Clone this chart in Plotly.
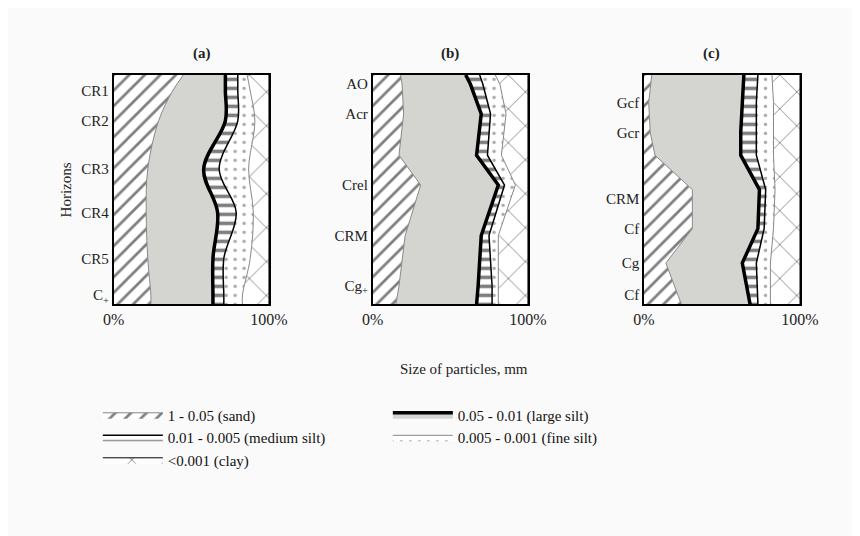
import plotly.graph_objects as go

# depths (0 = top of profile, 100 = bottom)
a_depth = [0, 7, 20, 41, 60, 80, 96, 100]
a_sand = [45, 38, 29, 22, 21, 22, 24, 24]
a_lsilt = [72, 72, 72, 58, 67, 64, 64, 64]
a_msilt = [80, 80, 80, 68, 79, 71, 71, 71]
a_fsilt = [86, 88, 91, 87, 90, 88, 83, 83]
a_ticks = [7, 20, 41, 60, 80, 96]
a_labels = ["CR1", "CR2", "CR3", "CR4", "CR5", "C<sub>+</sub>"]

b_depth = [0, 4, 17, 35, 48, 70, 92, 100]
b_sand = [18, 19, 20, 17, 31, 21, 17, 15]
b_lsilt = [60, 63, 70, 67, 81, 70, 68, 67]
b_msilt = [69, 71, 76, 74, 85, 75, 77, 77]
b_fsilt = [79, 82, 86, 83, 92, 81, 81, 81]
b_ticks = [4, 17, 48, 70, 92]
b_labels = ["AO", "Acr", "Crel", "CRM", "Cg<sub>+</sub>"]

c_depth = [0, 12, 25, 35, 50, 67, 82, 100]
c_sand = [5, 3, 4, 7, 31, 31, 14, 24]
c_lsilt = [64, 63, 62, 62, 74, 73, 63, 68]
c_msilt = [73, 72, 72, 72, 78, 77, 72, 73]
c_fsilt = [82, 83, 83, 83, 84, 83, 81, 81]
c_ticks = [12, 25, 54, 67, 82, 96]
c_labels = ["Gcf", "Gcr", "CRM", "Cf", "Cg", "Cf"]

names = ["1 - 0.05 (sand)", "0.05 - 0.01 (large silt)", "0.01 - 0.005 (medium silt)",
         "0.005 - 0.001 (fine silt)", "<0.001 (clay)"]

panels = [(a_depth, a_sand, a_lsilt, a_msilt, a_fsilt, a_ticks, a_labels, "(a)", "spline"),
          (b_depth, b_sand, b_lsilt, b_msilt, b_fsilt, b_ticks, b_labels, "(b)", "linear"),
          (c_depth, c_sand, c_lsilt, c_msilt, c_fsilt, c_ticks, c_labels, "(c)", "linear")]

styles = [
    dict(line=dict(color="#888", width=1), fillpattern=dict(shape="/", fgcolor="black", bgcolor="white", size=11, solidity=0.25)),
    dict(line=dict(color="black", width=3.5), fillcolor="#d4d4d0"),
    dict(line=dict(color="black", width=1.5), fillpattern=dict(shape="-", fgcolor="black", bgcolor="white", size=9, solidity=0.4)),
    dict(line=dict(color="#888", width=1), fillpattern=dict(shape=".", fgcolor="#555", bgcolor="white", size=9, solidity=0.12)),
    dict(line=dict(color="black", width=1), fillpattern=dict(shape="x", fgcolor="black", bgcolor="white", size=24, solidity=0.07)),
]

fig = go.Figure()
domains = [(0.114, 0.301), (0.426, 0.613), (0.753, 0.941)]
font = "Liberation Serif"
for i, (d, s1, s2, s3, s4, tv, tl, title, shp) in enumerate(panels):
    xa = "x" if i == 0 else f"x{i+1}"
    ya = "y" if i == 0 else f"y{i+1}"
    series = [s1, s2, s3, s4, [100] * len(d)]
    for k, xs in enumerate(series):
        fig.add_trace(go.Scatter(
            x=xs, y=d, mode="lines", name=names[k], xaxis=xa, yaxis=ya,
            fill="tozerox" if k == 0 else "tonextx", line_shape=shp,
            showlegend=(i == 0), legendgroup=names[k], **styles[k]))
    axk = "" if i == 0 else str(i + 1)
    fig.layout["xaxis" + axk] = dict(domain=domains[i], range=[0, 100], tickvals=[0, 100],
                                      ticktext=["0%", "100%"], showgrid=False, zeroline=False,
                                      showline=True, linecolor="black", linewidth=1.5, mirror=True,
                                      ticks="", anchor=ya, tickfont=dict(size=16, family=font, color="#222"))
    fig.layout["yaxis" + axk] = dict(domain=[0.446, 0.875], range=[100, 0], tickvals=tv, ticktext=tl,
                                      showgrid=False, zeroline=False, showline=True, linecolor="black",
                                      linewidth=1.5, mirror=True, ticks="", anchor=xa,
                                      tickfont=dict(size=15, family=font, color="#222"))
    fig.add_annotation(x=(domains[i][0] + domains[i][1]) / 2, y=0.935, xref="paper", yref="paper",
                       text="<b>" + title + "</b>", showarrow=False, font=dict(size=15, family=font, color="#222"))

fig.add_annotation(x=0.044, y=0.66, xref="paper", yref="paper", text="Horizons", textangle=-90,
                   showarrow=False, font=dict(size=15, family=font, color="#222"))
fig.add_annotation(x=0.536, y=0.306, xref="paper", yref="paper", text="Size of particles, mm",
                   showarrow=False, font=dict(size=15, family=font, color="#222"))

fig.update_layout(
    width=860, height=536, margin=dict(l=0, r=0, t=0, b=0),
    paper_bgcolor="#fafafa", plot_bgcolor="white",
    legend=dict(orientation="h", x=0.095, y=0.27, xanchor="left", yanchor="top",
                entrywidth=215, entrywidthmode="pixels", bgcolor="rgba(0,0,0,0)",
                font=dict(size=15, family=font, color="#111"), itemwidth=60, tracegroupgap=0),
)
fig.write_html("out.html")
